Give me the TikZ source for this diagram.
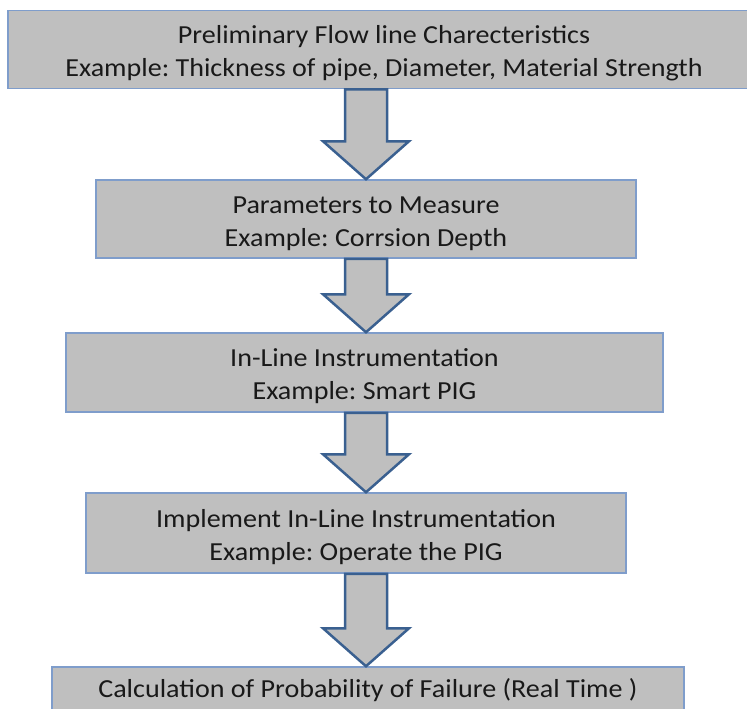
\documentclass[tikz,border=0pt]{standalone}
\usepackage{fontspec}
\setmainfont{Carlito}[FakeStretch=1.08]
\usetikzlibrary{calc, positioning}
\frenchspacing

\definecolor{boxgray}{HTML}{BFBFBF}
\definecolor{boxline}{HTML}{7F9DCB}
\definecolor{arrowline}{HTML}{3A6090}

% block arrow from the bottom of one box to the top of the next
\newcommand{\flowarrow}[2]{%
  \draw[bigarrow] let \p1=(#1.south -| axis), \p2=(#2.north -| axis) in
    (\x1-21pt,\y1) -- (\x1+21pt,\y1) -- (\x1+21pt,\y2+38pt) -- (\x1+43pt,\y2+38pt)
    -- (\p2) -- (\x1-43pt,\y2+38pt) -- (\x1-21pt,\y2+38pt) -- cycle;}

\begin{document}
\begin{tikzpicture}[
  x=1pt, y=-1pt,
  stagebox/.style={rectangle, draw=boxline, fill=boxgray, line width=1.5pt,
             align=center, inner sep=0pt, text=black!90,
             font=\fontsize{26}{33}\selectfont},
  twoline/.style={text height=60pt, text depth=6pt},
  bigarrow/.style={draw=arrowline, fill=boxgray, line width=2.5pt, line join=miter}
]
\useasboundingbox (0,0) rectangle (747,709);

\coordinate (axis) at (366,0);

\node[stagebox, twoline, minimum width=752pt, minimum height=78pt] (prelim) at (384,49.5) {%
  Preliminary Flow line Charecteristics\\
  Example: Thickness of pipe, Diameter, Material Strength};
\node[stagebox, twoline, minimum width=540pt, minimum height=78pt] (params) at (366,219) {%
  Parameters to Measure\\
  Example: Corrsion Depth};
\node[stagebox, twoline, minimum width=597pt, minimum height=79pt] (inline) at (364.5,372.5) {%
  In-Line Instrumentation\\
  Example: Smart PIG};
\node[stagebox, twoline, minimum width=540pt, minimum height=80pt] (implement) at (356,533) {%
  Implement In-Line Instrumentation\\
  Example: Operate the PIG};
\node[stagebox, minimum width=632pt, minimum height=46pt] (failure) at (368,690) {%
  Calculation of Probability of Failure (Real Time )};

\flowarrow{prelim}{params}
\flowarrow{params}{inline}
\flowarrow{inline}{implement}
\flowarrow{implement}{failure}

\end{tikzpicture}
\end{document}
